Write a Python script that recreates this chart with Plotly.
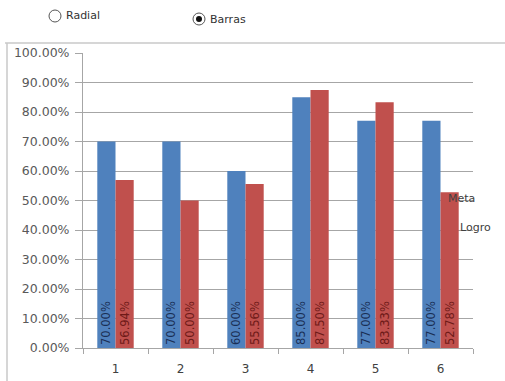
import plotly.graph_objects as go

# Data
categorias = ["1", "2", "3", "4", "5", "6"]
meta = [0.70, 0.70, 0.60, 0.85, 0.77, 0.77]
logro = [0.5694, 0.50, 0.5556, 0.875, 0.8333, 0.5278]
y_ticks = [0, 0.1, 0.2, 0.3, 0.4, 0.5, 0.6, 0.7, 0.8, 0.9, 1.0]

W, H = 505, 381
L, R, T, B = 83, 473, 53, 348  # plot area in pixels


def px(x):
    return (x - L) / (R - L)


def py(y):
    return (B - y) / (B - T)


FONT = "DejaVu Sans"
AXIS_GRAY = "#a6a6a6"

fig = go.Figure()
fig.add_trace(go.Bar(
    x=categorias, y=meta, name="Meta",
    marker=dict(color="#4F81BD", line=dict(width=0)),
    texttemplate="%{y:.2%}", textposition="inside", insidetextanchor="start",
    textangle=-90, constraintext="none",
    textfont=dict(family=FONT, size=11.5, color="#1A2F55"),
))
fig.add_trace(go.Bar(
    x=categorias, y=logro, name="Logro",
    marker=dict(color="#C0504D", line=dict(width=0)),
    texttemplate="%{y:.2%}", textposition="inside", insidetextanchor="start",
    textangle=-90, constraintext="none",
    textfont=dict(family=FONT, size=11.5, color="#6E1A18"),
))

shapes = [
    # outer frame (top and left edges)
    dict(type="line", xref="paper", yref="paper", x0=px(5), x1=px(505), y0=py(43), y1=py(43),
         line=dict(color="#c8c8c8", width=1.5)),
    dict(type="line", xref="paper", yref="paper", x0=px(7), x1=px(7), y0=py(43), y1=py(381),
         line=dict(color="#c8c8c8", width=1.5)),
    # radio buttons
    dict(type="circle", xref="paper", yref="paper", x0=px(49), x1=px(61), y0=py(10), y1=py(22),
         line=dict(color="#555555", width=1), fillcolor="white"),
    dict(type="circle", xref="paper", yref="paper", x0=px(193), x1=px(205), y0=py(13), y1=py(25),
         line=dict(color="#555555", width=1), fillcolor="white"),
    dict(type="circle", xref="paper", yref="paper", x0=px(196), x1=px(202), y0=py(16), y1=py(22),
         line=dict(color="#111111", width=0), fillcolor="#111111"),
]

annotations = [
    dict(text="Radial", xref="paper", yref="paper", x=px(64), y=py(16), xanchor="left",
         yanchor="middle", showarrow=False, font=dict(family=FONT, size=11, color="#333333")),
    dict(text="Barras", xref="paper", yref="paper", x=px(208), y=py(19), xanchor="left",
         yanchor="middle", showarrow=False, font=dict(family=FONT, size=11, color="#333333")),
    dict(text="Meta", xref="paper", yref="paper", x=px(446), y=py(198), xanchor="left",
         yanchor="middle", showarrow=False, font=dict(family=FONT, size=11, color="#404040")),
    dict(text="Logro", xref="paper", yref="paper", x=px(458), y=py(227), xanchor="left",
         yanchor="middle", showarrow=False, font=dict(family=FONT, size=11, color="#404040")),
]

fig.update_layout(
    width=W, height=H,
    margin=dict(l=L, r=W - R, t=T, b=H - B, pad=0, autoexpand=False),
    paper_bgcolor="white", plot_bgcolor="white",
    barmode="group", bargap=0.44, bargroupgap=0,
    showlegend=False,
    shapes=shapes, annotations=annotations,
    xaxis=dict(
        type="category", showline=True, linecolor=AXIS_GRAY, linewidth=1,
        ticks="outside", tickson="boundaries", ticklen=5, tickcolor=AXIS_GRAY,
        tickfont=dict(family=FONT, size=12, color="#404040"),
        ticklabelstandoff=10, automargin=False,
        showgrid=False,
    ),
    yaxis=dict(
        range=[0, 1.0], tickvals=y_ticks, tickformat=".2%",
        showline=True, linecolor=AXIS_GRAY, linewidth=1,
        ticks="outside", ticklen=7, tickcolor=AXIS_GRAY,
        showgrid=True, gridcolor=AXIS_GRAY, gridwidth=1,
        tickfont=dict(family=FONT, size=12.5, color="#595959"),
        ticklabelstandoff=3, automargin=False,
        zeroline=False,
    ),
)

fig.write_html("out.html")
